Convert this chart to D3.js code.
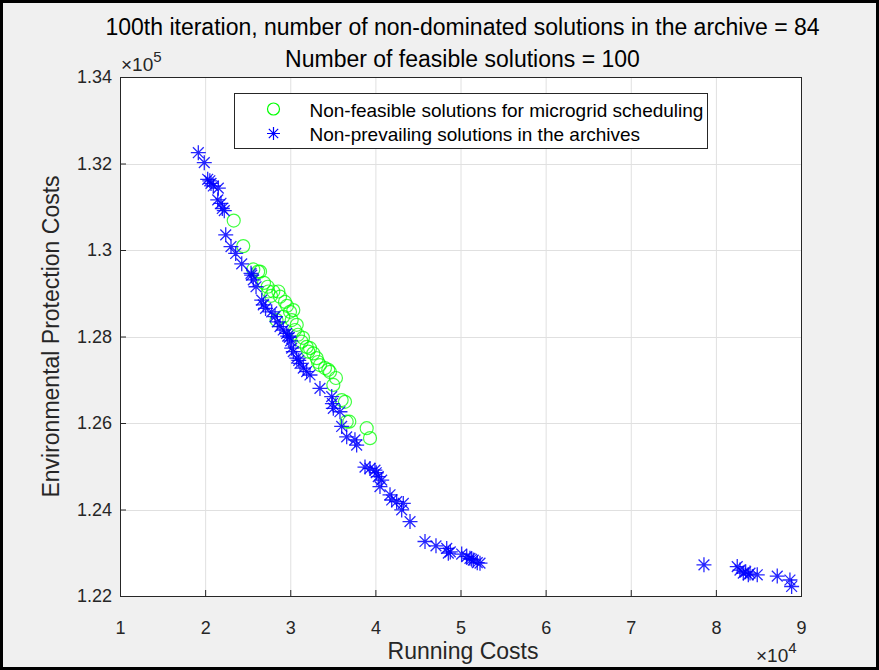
<!DOCTYPE html>
<html lang="en">
<head>
    <meta charset="UTF-8">
    <title>Archive scatter</title>
    <script src="https://cdn.jsdelivr.net/npm/d3@7"></script>
    <style>
        body { margin: 0; padding: 0; background: #fff; }
        svg { display: block; font-family: "Liberation Sans", Arial, sans-serif; }
        .grid line { stroke: #e0e0e0; stroke-width: 1; }
        .axis text { font-size: 18px; fill: #262626; }
        .axis path, .axis line { stroke: #262626; }
    </style>
</head>
<body>
<div id="chart"></div>
<script>
    // archive (non-dominated) solutions: running cost, environmental cost
    const starX = [19200, 19900, 20300, 20690, 20960, 21550, 21480, 21860, 22020, 22250,
        22420, 23040, 23590, 24300, 25390, 25470, 25660, 25980, 26650, 26830,
        27820, 28210, 28480, 28800, 29180, 29580, 29890, 30170, 30360, 30760,
        31150, 31530, 31930, 32320, 33490, 34870, 35060, 35840, 36040, 36630,
        37600, 37800, 38780, 39370, 39950, 40340, 40740, 40540, 41720, 41920,
        42500, 43280, 43090, 44070, 45830, 47120, 48380, 48570, 50140, 50730,
        51110, 51500, 51970, 52290, 78600, 82510, 82830, 83220, 83810, 84010,
        84860, 87210, 88700, 88900, 51300, 29700, 27100, 83500, 20550, 40100,
        31000, 48800, 30050, 34950];
    const starY = [132250, 132020, 131635, 131540, 131480, 131430, 131160, 131080, 130960, 130910,
        130350, 130080, 129920, 129680, 129460, 129420, 129310, 129150, 128840, 128730,
        128570, 128460, 128340, 128230, 128150, 128070, 127980, 127730, 127650, 127500,
        127380, 127270, 127190, 127110, 126800, 126610, 126340, 126260, 125920, 125680,
        125610, 125490, 124980, 124950, 124910, 124760, 124680, 124530, 124340, 124220,
        124180, 124140, 123990, 123720, 123260, 123160, 123100, 122990, 122970, 122910,
        122870, 122830, 122770, 122760, 122720, 122680, 122600, 122530, 122490, 122530,
        122490, 122460, 122370, 122220, 122850, 128010, 128650, 122560, 131600, 124850,
        127450, 123020, 127900, 126450];

    // other solutions in the population
    const circX = [23360, 24480, 25660, 26450, 27350, 27420, 28010, 28600, 28800, 29380,
        29970, 30360, 30170, 30560, 30760, 31340, 31930, 32120, 32710, 33110,
        33490, 34080, 34470, 35060, 36040, 36430, 36630, 36940, 38980, 39370,
        28390, 29180, 26230, 29620, 30910, 31500, 32320, 33260, 34670, 35370,
        27740, 26920];
    const circY = [130680, 130090, 129550, 129500, 129150, 129040, 129040, 129040, 128920, 128800,
        128570, 128610, 128380, 128150, 128270, 127880, 127760, 127650, 127610, 127500,
        127340, 127270, 127230, 126880, 126530, 126490, 126030, 126030, 125880, 125650,
        128380, 128460, 129500, 128710, 128040, 127970, 127730, 127410, 127180, 127040,
        128940, 129240];

    const xTicks = [1, 2, 3, 4, 5, 6, 7, 8, 9];
    const yTicks = [1.22, 1.24, 1.26, 1.28, 1.3, 1.32, 1.34];
    const titleLines = ["100th iteration, number of non-dominated solutions in the archive = 84",
        "Number of feasible solutions = 100"];
    const legendLabels = ["Non-feasible solutions for microgrid scheduling",
        "Non-prevailing solutions in the archives"];

    const W = 879, H = 670;
    const mLeft = 120, mRight = 801, mTop = 77, mBottom = 596;

    const svg = d3.select("#chart").append("svg")
        .attr("width", W).attr("height", H);

    svg.append("rect").attr("x", 1.5).attr("y", 1.5)
        .attr("width", W - 3).attr("height", H - 3)
        .attr("fill", "#f0f0f0").attr("stroke", "#000").attr("stroke-width", 3);

    // scales work in the scaled units shown on the axes
    const x = d3.scaleLinear().domain([1, 9]).range([mLeft, mRight]);
    const y = d3.scaleLinear().domain([1.22, 1.34]).range([mBottom, mTop]);

    svg.append("rect").attr("x", mLeft).attr("y", mTop)
        .attr("width", mRight - mLeft).attr("height", mBottom - mTop)
        .attr("fill", "#fff");

    const grid = svg.append("g").attr("class", "grid");
    grid.selectAll("line.gx").data(xTicks.slice(1, -1)).enter().append("line")
        .attr("x1", d => x(d) + 0.5).attr("x2", d => x(d) + 0.5)
        .attr("y1", mTop).attr("y2", mBottom);
    grid.selectAll("line.gy").data(yTicks.slice(1, -1)).enter().append("line")
        .attr("y1", d => Math.round(y(d)) + 0.5).attr("y2", d => Math.round(y(d)) + 0.5)
        .attr("x1", mLeft).attr("x2", mRight);

    const xAxis = svg.append("g").attr("class", "axis")
        .attr("transform", `translate(0,${mBottom})`)
        .call(d3.axisBottom(x).tickValues(xTicks).tickFormat(d3.format("d"))
            .tickSizeInner(-6).tickSizeOuter(0).tickPadding(25));
    xAxis.select(".domain").remove();

    const yAxis = svg.append("g").attr("class", "axis")
        .attr("transform", `translate(${mLeft},0)`)
        .call(d3.axisLeft(y).tickValues(yTicks).tickFormat(d => +d.toFixed(2) + "")
            .tickSizeInner(-6).tickSizeOuter(0).tickPadding(8));
    yAxis.select(".domain").remove();

    svg.append("rect").attr("x", mLeft + 0.5).attr("y", mTop + 0.5)
        .attr("width", mRight - mLeft).attr("height", mBottom - mTop)
        .attr("fill", "none").attr("stroke", "#262626").attr("stroke-width", 1);

    // markers
    const plot = svg.append("g");
    const circles = circX.map((v, i) => [v / 1e4, circY[i] / 1e5]);
    const stars = starX.map((v, i) => [v / 1e4, starY[i] / 1e5]);

    plot.selectAll("circle").data(circles).enter().append("circle")
        .attr("cx", d => x(d[0])).attr("cy", d => y(d[1])).attr("r", 6.5)
        .attr("fill", "none").attr("stroke", "#00ff00").attr("stroke-opacity", 0.75)
        .attr("stroke-width", 1.2);

    function starPath(s) {
        const d = s * 0.72;
        return `M${-s},0H${s}M0,${-s}V${s}M${-d},${-d}L${d},${d}M${-d},${d}L${d},${-d}`;
    }
    plot.selectAll("path.star").data(stars).enter().append("path")
        .attr("class", "star")
        .attr("transform", d => `translate(${x(d[0])},${y(d[1])})`)
        .attr("d", starPath(7.5))
        .attr("fill", "none").attr("stroke", "#0000ff").attr("stroke-opacity", 0.85)
        .attr("stroke-width", 1.3);

    // titles
    svg.selectAll("text.title").data(titleLines).enter().append("text")
        .attr("class", "title")
        .attr("x", (mLeft + mRight) / 2 + 2).attr("y", (d, i) => 35 + i * 32)
        .attr("text-anchor", "middle").attr("font-size", 23).attr("fill", "#000")
        .text(d => d);

    svg.append("text").attr("x", 463).attr("y", 659)
        .attr("text-anchor", "middle").attr("font-size", 23).attr("fill", "#262626")
        .text("Running Costs");
    svg.append("text")
        .attr("transform", `translate(59,${(mTop + mBottom) / 2}) rotate(-90)`)
        .attr("text-anchor", "middle").attr("font-size", 23).attr("fill", "#262626")
        .text("Environmental Protection Costs");

    // exponent labels
    function exponent(px, py, e) {
        const t = svg.append("text").attr("x", px).attr("y", py)
            .attr("font-size", 19).attr("fill", "#262626");
        t.append("tspan").text("\u00d710");
        t.append("tspan").attr("dy", -9).attr("font-size", 15).text(e);
    }
    exponent(121, 71, "5");
    exponent(756, 662, "4");

    // legend
    const lg = svg.append("g").attr("transform", "translate(234.5,93.5)");
    lg.append("rect").attr("width", 473).attr("height", 55)
        .attr("fill", "#fff").attr("stroke", "#262626").attr("stroke-width", 1);
    lg.append("circle").attr("cx", 39).attr("cy", 15.5).attr("r", 6)
        .attr("fill", "none").attr("stroke", "#00ff00").attr("stroke-width", 1.2);
    lg.append("path").attr("transform", "translate(39,40)").attr("d", starPath(6.5))
        .attr("fill", "none").attr("stroke", "#0000ff").attr("stroke-width", 1.2);
    lg.selectAll("text").data(legendLabels).enter().append("text")
        .attr("x", 75).attr("y", (d, i) => 23 + i * 24)
        .attr("font-size", 19).attr("fill", "#000")
        .text(d => d);
</script>
</body>
</html>
